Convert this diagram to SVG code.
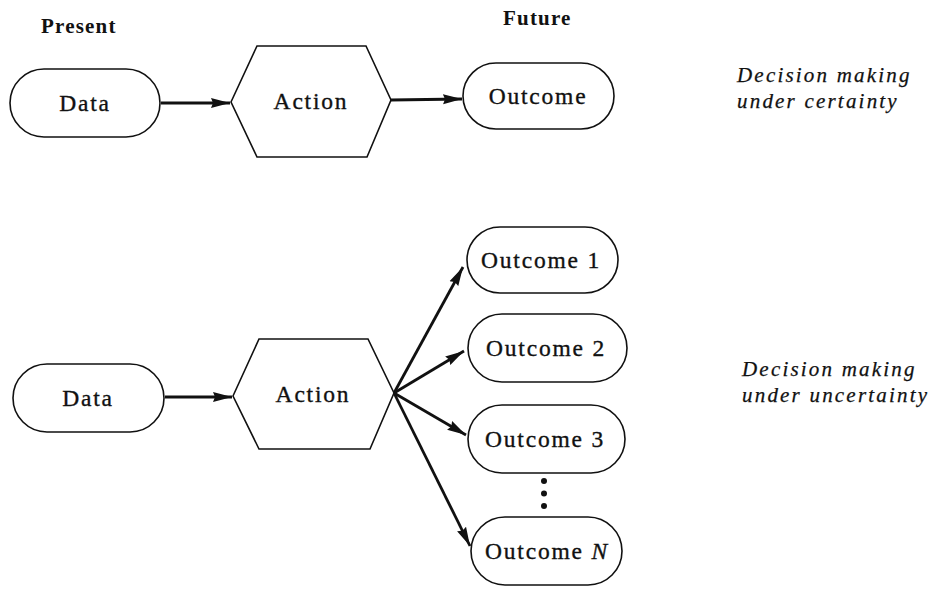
<svg xmlns="http://www.w3.org/2000/svg" width="934" height="590" viewBox="0 0 934 590">
  <style>
    .pill { fill: #fff; stroke: #111; stroke-width: 1.6; }
    .hex { fill: #fff; stroke: #111; stroke-width: 1.6; stroke-linejoin: miter; }
    .lbl { font-family: "Liberation Serif", "Times New Roman", serif; font-size: 23.5px; letter-spacing: 1.8px; fill: #111; stroke: #111; stroke-width: 0.35; text-anchor: middle; }
    .head { font-family: "Liberation Serif", "Times New Roman", serif; font-size: 21px; font-weight: bold; letter-spacing: 1.2px; fill: #111; }
    .note { font-family: "Liberation Serif", "Times New Roman", serif; font-size: 21px; font-style: italic; letter-spacing: 2.2px; fill: #111; stroke: #111; stroke-width: 0.25; }
    .arrow { stroke: #111; stroke-width: 2.8; fill: none; marker-end: url(#ah); }
  </style>
  <defs>
    <marker id="ah" markerUnits="userSpaceOnUse" markerWidth="20" markerHeight="12" viewBox="0 0 20 12" refX="19" refY="6" orient="auto">
      <path d="M0,1 L19,6 L0,11 L2,6 z" fill="#111"/>
    </marker>
  </defs>

  <rect width="934" height="590" fill="#fff"/>

  <!-- column headings -->
  <text class="head" x="41" y="33">Present</text>
  <text class="head" x="503" y="25">Future</text>

  <!-- side notes -->
  <text class="note" x="737" y="82">Decision making</text>
  <text class="note" x="737" y="108">under certainty</text>
  <text class="note" x="742" y="376">Decision making</text>
  <text class="note" x="742" y="402">under uncertainty</text>

  <!-- connectors -->
  <g id="connectors">
    <line class="arrow" x1="161" y1="103" x2="230" y2="103"/>
    <line class="arrow" x1="391" y1="100" x2="462" y2="99"/>
    <line class="arrow" x1="165" y1="397" x2="232" y2="397"/>
    <line class="arrow" x1="394" y1="393" x2="463" y2="267"/>
    <line class="arrow" x1="394" y1="393" x2="464" y2="351"/>
    <line class="arrow" x1="394" y1="393" x2="466" y2="435"/>
    <line class="arrow" x1="394" y1="393" x2="470" y2="546"/>
  </g>

  <!-- certainty case -->
  <g id="data-top">
    <rect class="pill" x="10" y="69" width="150" height="68" rx="34" ry="34"/>
    <text class="lbl" x="85" y="111">Data</text>
  </g>
  <g id="action-top">
    <polygon class="hex" points="231,102 257,46 366,46 391,100 367,157 257,157"/>
    <text class="lbl" x="311" y="109">Action</text>
  </g>
  <g id="outcome-top">
    <rect class="pill" x="463" y="63" width="151" height="66" rx="33" ry="33"/>
    <text class="lbl" x="538" y="104">Outcome</text>
  </g>

  <!-- uncertainty case -->
  <g id="data-bottom">
    <rect class="pill" x="13" y="364" width="151" height="68" rx="34" ry="34"/>
    <text class="lbl" x="88" y="406">Data</text>
  </g>
  <g id="action-bottom">
    <polygon class="hex" points="233,396 259,339 368,339 394,393 370,449 259,449"/>
    <text class="lbl" x="313" y="402">Action</text>
  </g>
  <g id="outcome-1">
    <rect class="pill" x="467" y="227" width="151" height="66" rx="33" ry="33"/>
    <text class="lbl" x="541" y="268">Outcome 1</text>
  </g>
  <g id="outcome-2">
    <rect class="pill" x="468" y="314" width="159" height="68" rx="34" ry="34"/>
    <text class="lbl" x="546" y="356">Outcome 2</text>
  </g>
  <g id="outcome-3">
    <rect class="pill" x="468" y="405" width="157" height="68" rx="34" ry="34"/>
    <text class="lbl" x="545" y="447">Outcome 3</text>
  </g>
  <g id="ellipsis">
    <circle cx="544" cy="481" r="3" fill="#111"/>
    <circle cx="544" cy="493.5" r="3" fill="#111"/>
    <circle cx="544" cy="506" r="3" fill="#111"/>
  </g>
  <g id="outcome-n">
    <rect class="pill" x="471" y="517" width="151" height="68" rx="34" ry="34"/>
    <text class="lbl" x="547" y="559">Outcome <tspan font-style="italic">N</tspan></text>
  </g>
</svg>
